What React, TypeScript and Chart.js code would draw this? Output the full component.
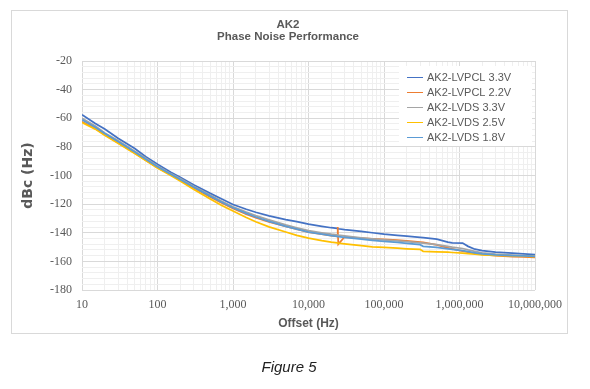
import React, { useEffect, useRef } from 'react';
import { Chart, registerables } from 'chart.js';

Chart.register(...registerables);

// ---- data ----
const freqHz = [
  10, 15, 20, 30, 50, 70, 100, 150, 200, 300, 500, 700, 1000, 1500, 2000, 3000, 5000, 7000,
  10000, 15000, 20000, 24000, 24400, 24800, 30000, 50000, 70000, 100000, 150000, 200000,
  300000, 330000, 500000, 700000, 800000, 1100000, 1300000, 1600000, 2000000, 3000000,
  5000000, 7000000, 10000000,
];

const lvpcl33 = [
  -57.5, -63.6, -67.5, -73.9, -81.2, -86.9, -92.2, -97.8, -101.2, -106.4, -112.5, -116.3, -120.3,
  -123.6, -125.7, -128.2, -130.8, -132.3, -134, -135.5, -136.5, -137, -137.1, -137.2, -137.8,
  -139, -140, -141, -141.8, -142.3, -143.2, -143.4, -144.5, -146.5, -147, -147.2, -149.5,
  -151.5, -152.5, -153.5, -154.3, -154.8, -155.2,
];

const lvpcl22 = [
  -62.5, -67.2, -71.5, -77.1, -84.3, -89.4, -94.6, -99.4, -103.3, -108.6, -115, -119.1, -123.1,
  -127, -129.5, -132.5, -135.5, -137.5, -139.5, -141, -142, -142.5, -136, -148, -143, -143.8,
  -144.2, -144.6, -145.2, -145.7, -146.5, -146.8, -148.5, -150.5, -151.3, -152.8, -153.5,
  -154.5, -155.2, -156, -156.6, -156.9, -157.2,
];

const lvds33 = [
  -60, -65.4, -70.3, -75.6, -83.1, -88, -93.3, -98.7, -102.1, -107.6, -113.6, -117.9, -121.8,
  -125.6, -128, -131, -134.5, -136.5, -138.5, -140, -141, -141.5, -141.6, -141.7, -142.2,
  -143.5, -144.3, -145, -145.7, -146.2, -147, -147.2, -148.3, -149.5, -150, -151, -152, -153,
  -154, -155, -155.7, -156, -156.3,
];

const lvds25 = [
  -63, -67.6, -71.8, -77.4, -84.6, -89.6, -94.8, -100, -103.9, -109.6, -116.4, -120.8, -124.8,
  -129.3, -132.3, -135.9, -139.5, -141.8, -143.8, -145.5, -146.5, -147, -147.2, -147.3, -147.8,
  -149, -149.8, -150.3, -150.8, -151.2, -151.6, -153, -153.3, -153.6, -153.8, -154.2, -154.6,
  -155, -155.4, -155.8, -156.2, -156.4, -156.7,
];

const lvds18 = [
  -61, -66.3, -70.6, -76.3, -83.6, -88.7, -93.9, -99.1, -102.8, -108.1, -114.4, -118.5, -122.5,
  -126.5, -129, -132, -135.5, -137.5, -139.5, -141, -142, -142.5, -142.6, -142.7, -143.2,
  -144.5, -145.3, -146, -146.8, -147.4, -148.3, -149.5, -150.3, -151.2, -151.6, -152.5, -153.2,
  -154, -154.8, -155.5, -156, -156.2, -156.5,
];

const seriesNames = ['AK2-LVPCL 3.3V', 'AK2-LVPCL 2.2V', 'AK2-LVDS 3.3V', 'AK2-LVDS 2.5V', 'AK2-LVDS 1.8V'];
const seriesValues = [lvpcl33, lvpcl22, lvds33, lvds25, lvds18];
const seriesColors = ['#4472C4', '#ED7D31', '#A5A5A5', '#FFC000', '#5B9BD5'];

const xTickValues = [10, 100, 1000, 10000, 100000, 1000000, 10000000];
const xTickLabels = ['10', '100', '1,000', '10,000', '100,000', '1,000,000', '10,000,000'];
const yTickValues = [-180, -160, -140, -120, -100, -80, -60, -40, -20];

const chartTitle = ['AK2', 'Phase Noise Performance'];
const xTitle = 'Offset (Hz)';
const yTitle = 'dBc (Hz)';
const figureCaption = 'Figure 5';

// grid helpers (minor lines)
const xAllTicks: number[] = [];
xTickValues.forEach((d, i) => {
  if (i === xTickValues.length - 1) {
    xAllTicks.push(d);
  } else {
    for (let m = 1; m <= 9; m++) xAllTicks.push(d * m);
  }
});
const yAllTicks: number[] = [];
yTickValues.forEach((v, i) => {
  yAllTicks.push(v);
  if (i < yTickValues.length - 1) {
    const next = yTickValues[i + 1];
    const step = (next - v) / 5;
    for (let k = 1; k < 5; k++) yAllTicks.push(v + step * k);
  }
});

const TEXT = '#595959';
const MAJOR = '#d9d9d9';
const MINOR = '#efefef';

const framePlugin = {
  id: 'frame',
  beforeDraw(chart: any) {
    const { ctx } = chart;
    ctx.save();
    ctx.fillStyle = '#ffffff';
    ctx.fillRect(0, 0, chart.width, chart.height);
    ctx.strokeStyle = '#d9d9d9';
    ctx.lineWidth = 1;
    ctx.strokeRect(11.5, 10.5, 556, 323);
    ctx.fillStyle = TEXT;
    ctx.font = 'bold 11.5px "Liberation Sans", Arial, sans-serif';
    ctx.textAlign = 'center';
    ctx.textBaseline = 'middle';
    ctx.fillText(chartTitle[0], 288, 25);
    ctx.fillText(chartTitle[1], 288, 37);
    ctx.restore();
  },
  afterDraw(chart: any) {
    const { ctx } = chart;
    ctx.save();
    ctx.fillStyle = '#ffffff';
    ctx.fillRect(399, 66, 133, 80);
    ctx.font = '11px "Liberation Sans", Arial, sans-serif';
    ctx.textAlign = 'left';
    ctx.textBaseline = 'middle';
    chart.data.datasets.forEach((ds: any, i: number) => {
      const y = 77 + 15 * i;
      ctx.strokeStyle = ds.borderColor;
      ctx.lineWidth = 1;
      ctx.beginPath();
      ctx.moveTo(407, y + 0.5);
      ctx.lineTo(423, y + 0.5);
      ctx.stroke();
      ctx.fillStyle = TEXT;
      ctx.fillText(ds.label, 427, y + 0.5);
    });
    ctx.restore();
  },
};

export default function App() {
  const ref = useRef<HTMLCanvasElement>(null);
  useEffect(() => {
    document.body.style.margin = '0';
    const datasets = seriesNames.map((name, i) => ({
      label: name,
      data: freqHz.map((f, j) => ({ x: f, y: seriesValues[i][j] })),
      borderColor: seriesColors[i],
      backgroundColor: seriesColors[i],
      borderWidth: 1.75,
      pointRadius: 0,
      tension: 0,
      fill: false,
      order: seriesNames.length - i,
    }));
    const chart = new Chart(ref.current as HTMLCanvasElement, {
      type: 'line',
      data: { datasets },
      plugins: [framePlugin],
      options: {
        animation: false,
        responsive: false,
        events: [],
        layout: { padding: { left: 12, top: 61, right: 55, bottom: 54 } },
        plugins: {
          legend: { display: false },
          title: { display: false },
          tooltip: { enabled: false },
        },
        scales: {
          x: {
            type: 'logarithmic',
            min: 10,
            max: 10000000,
            afterBuildTicks: (s: any) => {
              s.ticks = xAllTicks.map((v) => ({ value: v }));
            },
            afterFit: (s: any) => {
              s.height = 45;
            },
            ticks: {
              autoSkip: false,
              maxRotation: 0,
              minRotation: 0,
              padding: 8,
              color: TEXT,
              font: { family: '"Liberation Serif", serif', size: 12 },
              callback: (v: any) => {
                const i = xTickValues.indexOf(Number(v));
                return i >= 0 ? xTickLabels[i] : '';
              },
            },
            grid: {
              drawTicks: false,
              color: (c: any) => (c.tick && xTickValues.includes(c.tick.value) ? MAJOR : MINOR),
            },
            border: { display: false },
            title: {
              display: true,
              text: xTitle,
              color: TEXT,
              font: { family: '"Liberation Sans", Arial, sans-serif', size: 12, weight: 'bold' },
              padding: { top: 0, bottom: 4 },
            },
          },
          y: {
            type: 'linear',
            min: -180,
            max: -20,
            afterBuildTicks: (s: any) => {
              s.ticks = yAllTicks.map((v) => ({ value: v }));
            },
            afterFit: (s: any) => {
              s.width = 70;
            },
            ticks: {
              autoSkip: false,
              padding: 10,
              color: TEXT,
              font: { family: '"Liberation Serif", serif', size: 12 },
              callback: (v: any) => (yTickValues.includes(Number(v)) ? String(v) : ''),
            },
            grid: {
              drawTicks: false,
              color: (c: any) => (c.tick && yTickValues.includes(c.tick.value) ? MAJOR : MINOR),
            },
            border: { display: false },
            title: {
              display: true,
              text: yTitle,
              color: TEXT,
              font: { family: '"DejaVu Sans", sans-serif', size: 14, weight: 'bold' },
              padding: { top: 8, bottom: 0 },
            },
          },
        },
      } as any,
    });
    return () => chart.destroy();
  }, []);

  return (
    <div style={{ position: 'absolute', left: 0, top: 0, width: 590, height: 389, background: '#fff' }}>
      <canvas ref={ref} width={590} height={389} style={{ display: 'block', width: 590, height: 389 }} />
      <div
        style={{
          position: 'absolute',
          left: 0,
          width: 578,
          top: 358,
          textAlign: 'center',
          font: 'italic 15px "Liberation Sans", Arial, sans-serif',
          lineHeight: '18px',
          color: '#222',
        }}
      >
        {figureCaption}
      </div>
    </div>
  );
}
